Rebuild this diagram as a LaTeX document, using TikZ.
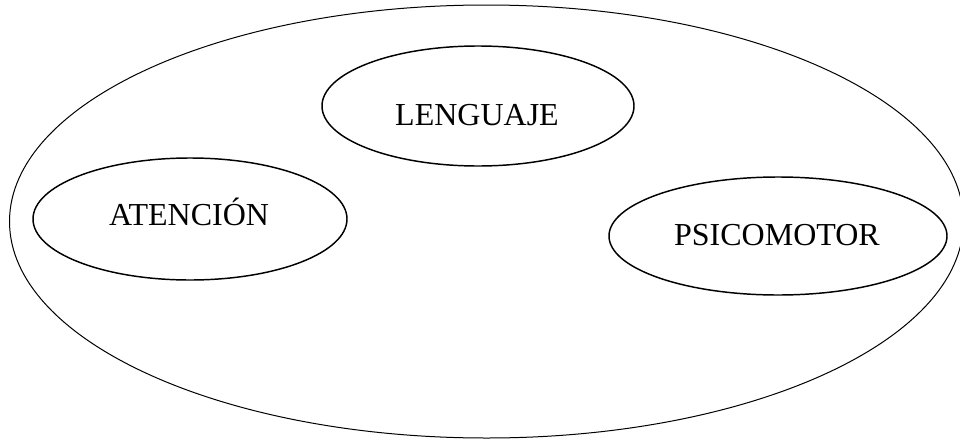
\documentclass[tikz,border=0pt]{standalone}
\usepackage{fontspec}
\setmainfont{Liberation Serif}
\usetikzlibrary{shapes.geometric}
\begin{document}
\begin{tikzpicture}[x=0.75pt,y=-0.75pt,
  outer/.style={draw, ellipse, line width=0.75pt, inner sep=0pt},
  inner/.style={draw, ellipse, line width=1.1pt, inner sep=0pt},
  lbl/.style={font=\fontsize{24pt}{28pt}\selectfont, anchor=base, inner sep=0pt}]
\useasboundingbox (0,0) rectangle (960,439);
\node[outer, minimum width=715.5pt, minimum height=324.75pt] (whole) at (486.5,221.5) {};
\node[inner, minimum width=234pt, minimum height=90pt] (leng) at (478,106) {};
\node[inner, minimum width=235.5pt, minimum height=91.5pt] (aten) at (190,219) {};
\node[inner, minimum width=253.5pt, minimum height=88.5pt] (psico) at (778,236) {};
\node[lbl] (tleng) at (477,125) {LENGUAJE};
\node[lbl] (taten) at (189,225) {ATENCIÓN};
\node[lbl] (tpsico) at (777,245) {PSICOMOTOR};
\end{tikzpicture}
\end{document}
